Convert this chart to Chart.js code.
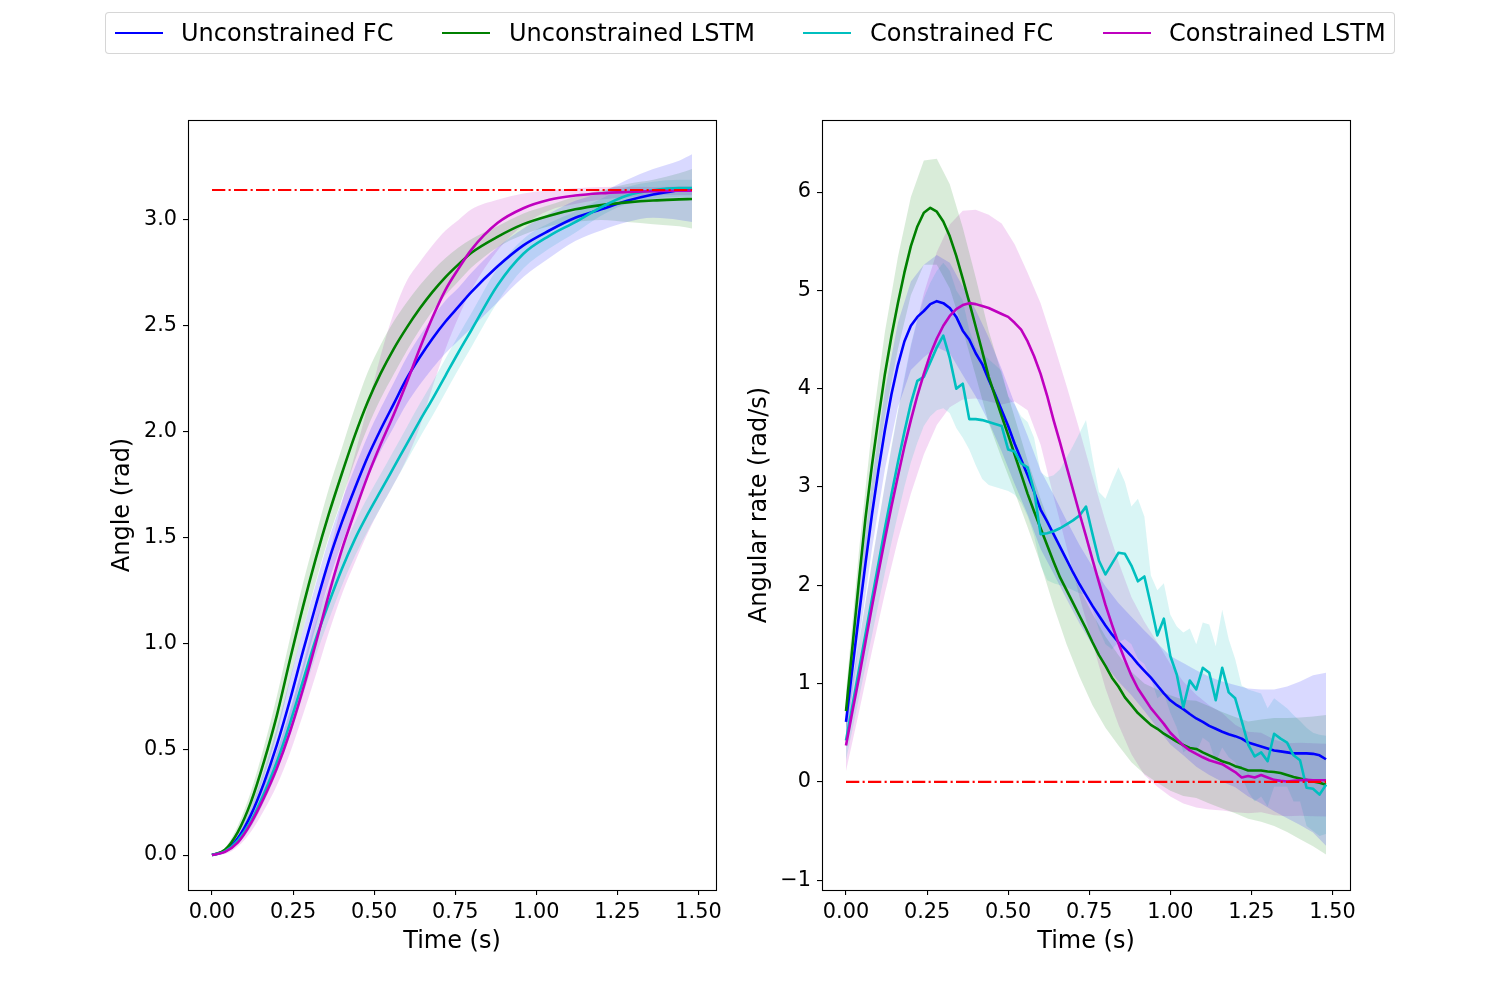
<!DOCTYPE html>
<html>
<head>
<meta charset="utf-8">
<script src="https://cdn.jsdelivr.net/npm/chart.js@4.4.1/dist/chart.umd.min.js"></script>
<style>
  html, body { margin:0; padding:0; background:#fff; }
  body { width:1500px; height:1000px; position:relative; overflow:hidden; font-family:"DejaVu Sans", sans-serif; }
  canvas { position:absolute; top:0; }
  #legend { position:absolute; left:105px; top:12px; width:1288px; height:40px; border:1px solid rgba(204,204,204,0.8); border-radius:4px; background:#fff; }
  .lg-line { position:absolute; top:31.5px; width:48px; height:2.7px; }
  .lg-text { position:absolute; top:19px; height:28px; line-height:28px; font-size:24px; color:#000; white-space:nowrap; }
</style>
</head>
<body>
<div id="legend"></div>
<canvas id="left" width="760" height="1000" style="left:0;width:760px;height:1000px"></canvas>
<canvas id="right" width="760" height="1000" style="left:740px;width:760px;height:1000px"></canvas>
<script>
// ---------------- DATA ----------------
const seriesNames = ['Unconstrained FC', 'Unconstrained LSTM', 'Constrained FC', 'Constrained LSTM'];
const xTickVals = [0, 0.25, 0.5, 0.75, 1.0, 1.25, 1.5];
const angleTickVals = [0, 0.5, 1.0, 1.5, 2.0, 2.5, 3.0];
const rateTickVals = [-1, 0, 1, 2, 3, 4, 5, 6];

// Left panel (angle) time samples
const tL = [0,0.04,0.08,0.12,0.16,0.20,0.24,0.28,0.32,0.36,0.40,0.44,0.48,0.52,0.56,0.60,0.64,0.68,0.72,0.76,0.80,0.88,0.96,1.04,1.12,1.20,1.28,1.36,1.44,1.48];

const angleUFC   = [0,0.02,0.08,0.19,0.34,0.52,0.73,0.96,1.18,1.39,1.57,1.73,1.88,2.01,2.13,2.25,2.35,2.44,2.52,2.59,2.66,2.78,2.88,2.95,3.01,3.05,3.09,3.12,3.14,3.15];
const angleUFCLo = [0,0.01,0.06,0.15,0.28,0.44,0.63,0.86,1.08,1.29,1.47,1.63,1.78,1.91,2.02,2.13,2.22,2.30,2.37,2.43,2.49,2.61,2.73,2.82,2.90,2.95,2.99,3.01,3.00,2.99];
const angleUFCHi = [0,0.03,0.10,0.23,0.40,0.60,0.83,1.06,1.28,1.49,1.67,1.83,1.98,2.11,2.23,2.35,2.45,2.54,2.62,2.68,2.75,2.87,2.96,3.03,3.09,3.13,3.19,3.24,3.28,3.31];

const angleULSTM   = [0,0.025,0.11,0.25,0.44,0.66,0.92,1.17,1.40,1.61,1.80,1.98,2.14,2.275,2.39,2.49,2.58,2.66,2.73,2.79,2.845,2.92,2.98,3.02,3.05,3.07,3.083,3.092,3.097,3.099];
const angleULSTMLo = [0,0.015,0.08,0.20,0.37,0.57,0.82,1.06,1.29,1.50,1.68,1.86,2.02,2.155,2.27,2.38,2.48,2.57,2.645,2.71,2.775,2.87,2.93,2.97,2.99,3.00,2.99,2.98,2.97,2.96];
const angleULSTMHi = [0,0.035,0.14,0.30,0.51,0.75,1.02,1.28,1.51,1.73,1.92,2.11,2.28,2.41,2.52,2.61,2.69,2.76,2.82,2.87,2.91,2.97,3.03,3.07,3.11,3.14,3.17,3.19,3.22,3.24];

const angleCFC   = [0,0.017,0.07,0.16,0.29,0.44,0.62,0.82,1.02,1.19,1.35,1.49,1.61,1.72,1.83,1.94,2.05,2.155,2.265,2.375,2.48,2.69,2.84,2.925,2.99,3.06,3.115,3.14,3.15,3.15];
const angleCFCLo = [0,0.012,0.055,0.13,0.25,0.39,0.56,0.75,0.94,1.11,1.27,1.41,1.53,1.64,1.75,1.86,1.97,2.075,2.185,2.295,2.40,2.61,2.77,2.865,2.94,3.02,3.075,3.10,3.11,3.11];
const angleCFCHi = [0,0.022,0.085,0.19,0.33,0.49,0.68,0.89,1.10,1.27,1.43,1.57,1.69,1.80,1.91,2.02,2.13,2.235,2.345,2.455,2.56,2.77,2.91,2.985,3.04,3.10,3.155,3.18,3.19,3.19];

const angleCLSTM   = [0,0.015,0.06,0.15,0.27,0.41,0.58,0.78,1.00,1.23,1.44,1.62,1.79,1.94,2.08,2.23,2.39,2.54,2.67,2.77,2.86,2.985,3.055,3.095,3.115,3.126,3.132,3.136,3.138,3.138];
const angleCLSTMLo = [0,0.005,0.04,0.11,0.21,0.33,0.48,0.66,0.85,1.05,1.23,1.38,1.52,1.64,1.75,1.87,2.02,2.21,2.39,2.54,2.67,2.855,2.975,3.045,3.075,3.096,3.107,3.116,3.118,3.118];
const angleCLSTMHi = [0,0.025,0.08,0.19,0.33,0.49,0.68,0.90,1.15,1.41,1.66,1.89,2.12,2.36,2.56,2.71,2.80,2.88,2.95,3.00,3.05,3.095,3.125,3.14,3.15,3.156,3.157,3.156,3.158,3.158];

const tRef = [0, 1.48];
const angleTarget = [3.1416, 3.1416];
const rateTarget = [0, 0];

// Right panel (angular rate) time samples
const tR = [0,0.02,0.04,0.06,0.08,0.10,0.12,0.14,0.16,0.18,0.20,0.22,0.24,0.26,0.28,0.30,0.32,0.34,0.36,0.38,0.40,0.42,0.44,0.46,0.48,0.50,0.52,0.54,0.56,0.58,0.60,0.62,0.64,0.66,0.68,0.70,0.72,0.74,0.76,0.78,0.80,0.82,0.84,0.86,0.88,0.90,0.92,0.94,0.96,0.98,1.00,1.02,1.04,1.06,1.08,1.10,1.12,1.14,1.16,1.18,1.20,1.22,1.24,1.26,1.28,1.30,1.32,1.34,1.36,1.38,1.40,1.42,1.44,1.46,1.48];
const tR4 = [0,0.04,0.08,0.12,0.16,0.20,0.24,0.28,0.32,0.36,0.40,0.44,0.48,0.52,0.56,0.60,0.64,0.68,0.72,0.76,0.80,0.84,0.88,0.92,0.96,1.00,1.04,1.08,1.12,1.16,1.20,1.24,1.28,1.32,1.36,1.40,1.44,1.48];

const rateUFC = [0.61,1.16,1.70,2.22,2.72,3.17,3.58,3.94,4.24,4.48,
  4.64,4.73,4.79,4.86,4.89,4.87,4.82,4.73,4.59,4.50,
  4.36,4.25,4.09,3.94,3.78,3.62,3.44,3.28,3.12,2.95,
  2.77,2.65,2.52,2.39,2.26,2.13,2.01,1.90,1.79,1.69,
  1.59,1.50,1.42,1.35,1.28,1.20,1.13,1.06,0.98,0.90,
  0.83,0.78,0.74,0.69,0.645,0.61,0.57,0.54,0.51,0.485,
  0.465,0.44,0.40,0.38,0.36,0.34,0.32,0.31,0.30,0.29,
  0.29,0.29,0.285,0.27,0.23];
const rateULSTM = [0.72,1.38,2.05,2.68,3.22,3.70,4.15,4.53,4.87,5.18,
  5.45,5.65,5.79,5.84,5.80,5.70,5.55,5.35,5.12,4.88,
  4.63,4.38,4.12,3.92,3.72,3.53,3.33,3.13,2.93,2.75,
  2.58,2.41,2.24,2.08,1.95,1.82,1.69,1.56,1.42,1.29,
  1.18,1.06,0.97,0.86,0.78,0.70,0.64,0.58,0.54,0.49,
  0.45,0.41,0.375,0.345,0.335,0.30,0.27,0.24,0.21,0.19,
  0.16,0.14,0.115,0.115,0.115,0.105,0.10,0.09,0.07,0.05,
  0.035,0.02,0.005,-0.01,-0.03];
const rateCFC = [0.42,0.78,1.14,1.50,1.86,2.22,2.58,2.92,3.25,3.56,
  3.85,4.08,4.12,4.27,4.42,4.54,4.31,4.00,4.05,3.69,
  3.69,3.68,3.66,3.64,3.62,3.38,3.36,3.24,3.20,2.96,
  2.52,2.53,2.55,2.58,2.62,2.66,2.71,2.80,2.52,2.25,
  2.11,2.22,2.33,2.32,2.20,2.04,2.09,1.80,1.49,1.66,
  1.28,1.09,0.76,1.03,0.94,1.16,1.11,0.83,1.16,0.91,
  0.85,0.62,0.38,0.26,0.30,0.21,0.49,0.44,0.40,0.27,
  0.22,-0.06,-0.07,-0.13,-0.03];
const rateCLSTM = [0.37,0.72,1.06,1.42,1.78,2.13,2.47,2.80,3.11,3.41,
  3.68,3.93,4.15,4.35,4.51,4.64,4.74,4.81,4.85,4.87,
  4.86,4.84,4.82,4.79,4.76,4.73,4.67,4.60,4.48,4.33,
  4.15,3.93,3.68,3.45,3.21,2.97,2.73,2.50,2.26,2.03,
  1.80,1.60,1.41,1.24,1.08,0.95,0.85,0.75,0.67,0.59,
  0.50,0.435,0.37,0.32,0.285,0.25,0.22,0.20,0.18,0.14,
  0.10,0.045,0.06,0.045,0.07,0.045,0.02,0.01,0.003,0.01,
  0.017,0.02,0.017,0.017,0.017];

const rateCFCLo = [0.22,0.53,0.85,1.17,1.49,1.81,2.13,2.43,2.72,3.00,
  3.25,3.45,3.62,3.72,3.78,3.80,3.75,3.60,3.50,3.38,
  3.22,3.08,3.02,3.00,2.98,2.96,2.92,2.84,2.70,2.50,
  2.20,2.05,2.02,2.00,1.98,1.95,1.92,1.90,1.75,1.55,
  1.40,1.35,1.42,1.45,1.40,1.25,1.20,1.05,0.85,0.90,
  0.70,0.55,0.30,0.35,0.30,0.45,0.40,0.20,0.35,0.25,
  0.20,0.05,-0.10,-0.20,-0.15,-0.25,-0.05,-0.05,-0.05,-0.20,
  -0.20,-0.45,-0.50,-0.55,-0.53];
const rateCFCHi = [0.62,1.03,1.43,1.83,2.23,2.63,3.03,3.41,3.78,4.12,
  4.45,4.71,4.92,5.08,5.20,5.28,5.20,5.00,4.90,4.60,
  4.42,4.36,4.30,4.24,4.18,3.92,3.84,3.72,3.66,3.50,
  3.15,3.10,3.12,3.18,3.30,3.42,3.55,3.68,3.30,2.95,
  2.88,3.05,3.20,3.05,2.80,2.88,2.70,2.10,1.95,2.02,
  1.70,1.58,1.52,1.56,1.40,1.62,1.60,1.38,1.75,1.45,
  1.25,0.98,0.94,0.92,0.90,0.75,0.85,0.80,0.75,0.68,
  0.62,0.55,0.50,0.48,0.47];

const rateUFCLo = [0.41,1.42,2.37,3.18,3.81,4.19,4.32,4.42,4.36,4.14,3.92,3.66,3.36,3.03,2.72,2.37,2.12,1.86,1.61,1.39,1.19,1.02,0.88,0.72,0.55,0.38,0.27,0.155,0.07,0.0,-0.055,-0.15,-0.22,-0.30,-0.37,-0.44,-0.515,-0.65];
const rateUFCHi = [0.81,1.98,3.07,3.98,4.67,5.09,5.26,5.36,5.28,5.04,4.80,4.52,4.20,3.85,3.52,3.17,2.92,2.66,2.41,2.19,1.99,1.82,1.68,1.54,1.41,1.28,1.21,1.135,1.07,1.02,0.985,0.95,0.94,0.94,0.97,1.02,1.085,1.11];
const rateULSTMLo = [0.52,1.75,2.84,3.72,4.40,4.95,5.26,5.26,5.02,4.60,4.13,3.65,3.29,2.95,2.59,2.22,1.79,1.40,1.07,0.78,0.55,0.37,0.20,0.08,-0.01,-0.09,-0.145,-0.165,-0.22,-0.27,-0.32,-0.375,-0.405,-0.45,-0.51,-0.585,-0.655,-0.74];
const rateULSTMHi = [0.92,2.35,3.60,4.58,5.34,5.95,6.32,6.34,6.08,5.64,5.13,4.59,4.15,3.71,3.27,2.88,2.52,2.23,1.97,1.71,1.48,1.29,1.12,1.00,0.94,0.88,0.835,0.825,0.77,0.71,0.66,0.615,0.635,0.65,0.65,0.655,0.665,0.68];
const rateCLSTMLo = [0.11,0.71,1.33,1.92,2.46,2.93,3.33,3.63,3.81,3.89,3.90,3.87,3.84,3.87,3.78,3.43,2.90,2.39,1.88,1.41,0.95,0.58,0.28,0.07,-0.05,-0.15,-0.22,-0.26,-0.28,-0.29,-0.31,-0.32,-0.31,-0.34,-0.35,-0.345,-0.35,-0.353];
const rateCLSTMHi = [0.63,1.41,2.23,3.02,3.76,4.43,4.97,5.39,5.67,5.81,5.82,5.77,5.68,5.47,5.18,4.87,4.46,4.03,3.58,3.11,2.65,2.24,1.88,1.63,1.42,1.20,1.02,0.885,0.78,0.70,0.58,0.51,0.50,0.43,0.393,0.397,0.392,0.387];

// ---------------- STYLE ----------------
const colors = ['#0000ff', '#008000', '#00bfbf', '#bf00bf'];
const bandColors = ['rgba(0,0,255,0.15)', 'rgba(0,128,0,0.15)', 'rgba(0,191,191,0.15)', 'rgba(191,0,191,0.15)'];
const FONT = 'DejaVu Sans';

// ---------------- LEGEND (HTML text) ----------------
(function buildLegend(){
  const lineX = [115, 442, 803, 1103];
  const textX = [181, 509, 870, 1169];
  seriesNames.forEach((name, i) => {
    const l = document.createElement('div');
    l.className = 'lg-line';
    l.style.left = lineX[i] + 'px';
    l.style.background = colors[i];
    document.body.appendChild(l);
    const t = document.createElement('div');
    t.className = 'lg-text';
    t.style.left = textX[i] + 'px';
    t.textContent = name;
    document.body.appendChild(t);
  });
})();

// ---------------- HELPERS ----------------
function pts(xs, ys) { return xs.map((x, i) => ({ x: x, y: ys[i] })); }

function buildDatasets(xsMean, means, xsBand, bands, ref, xsRef, smooth) {
  const ds = [];
  const interp = smooth ? { cubicInterpolationMode: 'monotone' } : { tension: 0 };
  bands.forEach((b, i) => {
    const loIndex = ds.length;
    ds.push(Object.assign({
      label: seriesNames[i] + ' lo', data: pts(xsBand[i], b[0]),
      borderColor: 'rgba(0,0,0,0)', borderWidth: 0, pointRadius: 0, fill: false, order: 20 + i
    }, interp));
    ds.push(Object.assign({
      label: seriesNames[i] + ' hi', data: pts(xsBand[i], b[1]),
      borderColor: 'rgba(0,0,0,0)', borderWidth: 0, pointRadius: 0,
      backgroundColor: bandColors[i], fill: { target: loIndex }, order: 20 + i
    }, interp));
  });
  means.forEach((m, i) => {
    ds.push(Object.assign({
      label: seriesNames[i], data: pts(xsMean[i], m),
      borderColor: colors[i], borderWidth: 2.6, pointRadius: 0, fill: false,
      borderJoinStyle: 'round', order: 10 - i
    }, interp));
  });
  ds.push({
    label: 'target', data: pts(xsRef, ref), borderColor: '#ff0000', borderWidth: 2.1,
    borderDash: [13.3, 3.3, 2.1, 3.3], pointRadius: 0, fill: false, order: 0, tension: 0
  });
  return ds;
}

const framePlugin = {
  id: 'frame',
  afterDatasetsDraw(chart) {
    const { ctx, chartArea: a } = chart;
    ctx.save();
    ctx.strokeStyle = '#000';
    ctx.lineWidth = 1.1;
    ctx.strokeRect(Math.round(a.left) + 0.5, Math.round(a.top) + 0.5,
      Math.round(a.right - a.left), Math.round(a.bottom - a.top));
    ctx.restore();
  }
};

function makeOptions(cfg) {
  const tickFont = { family: FONT, size: 20.8 };
  const titleFont = { family: FONT, size: 24 };
  return {
    responsive: false,
    animation: false,
    devicePixelRatio: 1,
    layout: { padding: cfg.padding },
    plugins: { legend: { display: false }, tooltip: { enabled: false } },
    scales: {
      x: {
        type: 'linear', min: -0.074, max: 1.554,
        afterBuildTicks: s => { s.ticks = xTickVals.map(v => ({ value: v })); },
        afterFit: s => { s.height = 66; },
        ticks: { callback: v => Number(v).toFixed(2), color: '#000', font: tickFont, padding: 5, autoSkip: false, maxRotation: 0 },
        grid: { display: true, drawOnChartArea: false, drawTicks: true, tickLength: 5, color: '#000', lineWidth: 1.1 },
        border: { display: false },
        title: { display: true, text: 'Time (s)', color: '#000', font: titleFont, padding: 0 }
      },
      y: {
        type: 'linear', min: cfg.ymin, max: cfg.ymax,
        afterBuildTicks: s => { s.ticks = cfg.yticks.map(v => ({ value: v })); },
        afterFit: s => { s.width = cfg.yWidth; },
        ticks: { callback: cfg.yfmt, color: '#000', font: tickFont, padding: 6, autoSkip: false },
        grid: { display: true, drawOnChartArea: false, drawTicks: true, tickLength: 5, color: '#000', lineWidth: 1.1 },
        border: { display: false },
        title: { display: true, text: cfg.ytitle, color: '#000', font: titleFont, padding: 0 }
      }
    }
  };
}

// ---------------- LEFT: ANGLE ----------------
new Chart(document.getElementById('left'), {
  type: 'line',
  data: {
    datasets: buildDatasets(
      [tL, tL, tL, tL],
      [angleUFC, angleULSTM, angleCFC, angleCLSTM],
      [tL, tL, tL, tL],
      [[angleUFCLo, angleUFCHi], [angleULSTMLo, angleULSTMHi], [angleCFCLo, angleCFCHi], [angleCLSTMLo, angleCLSTMHi]],
      angleTarget, tRef, true)
  },
  options: makeOptions({
    padding: { left: 108, right: 44, top: 120, bottom: 44 },
    yWidth: 80, ymin: -0.165, ymax: 3.472, yticks: angleTickVals,
    yfmt: v => Number(v).toFixed(1), ytitle: 'Angle (rad)'
  }),
  plugins: [framePlugin]
});

// ---------------- RIGHT: ANGULAR RATE ----------------
new Chart(document.getElementById('right'), {
  type: 'line',
  data: {
    datasets: buildDatasets(
      [tR, tR, tR, tR],
      [rateUFC, rateULSTM, rateCFC, rateCLSTM],
      [tR4, tR4, tR, tR4],
      [[rateUFCLo, rateUFCHi], [rateULSTMLo, rateULSTMHi], [rateCFCLo, rateCFCHi], [rateCLSTMLo, rateCLSTMHi]],
      rateTarget, tRef, false)
  },
  options: makeOptions({
    padding: { left: 5, right: 150, top: 120, bottom: 44 },
    yWidth: 77, ymin: -1.10, ymax: 6.733, yticks: rateTickVals,
    yfmt: v => (v < 0 ? '\u2212' + Math.abs(v) : String(v)), ytitle: 'Angular rate (rad/s)'
  }),
  plugins: [framePlugin]
});
</script>
</body>
</html>
